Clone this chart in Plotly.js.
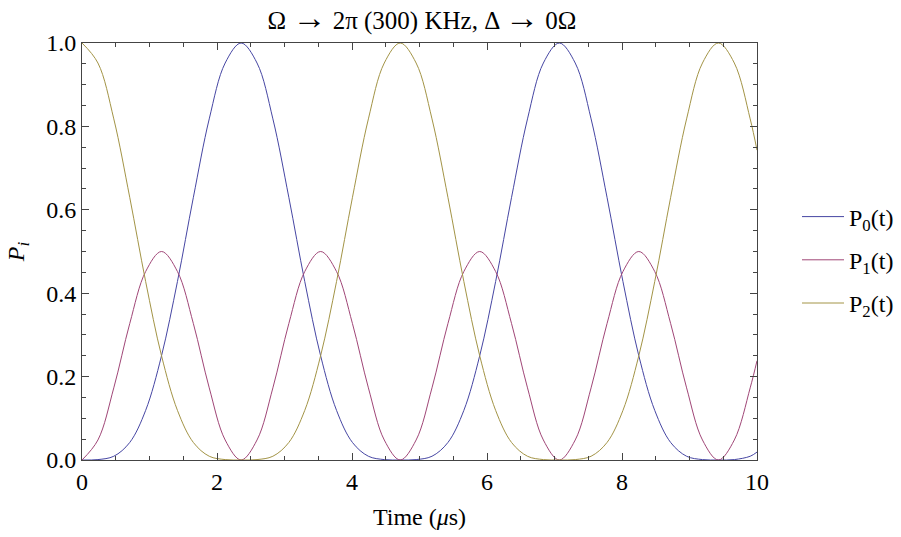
<!DOCTYPE html>
<html>
<head>
<meta charset="utf-8">
<script src="https://cdn.plot.ly/plotly-3.0.1.min.js"></script>
<style>html,body{margin:0;padding:0;background:#fff;}#chart{width:901px;height:537px;}</style>
</head>
<body>
<div id="chart"></div>
<script>
// Time (microseconds)
const time = [0,0.236,0.471,0.707,0.943,1.178,1.414,1.650,1.885,2.121,2.357,2.593,2.828,3.064,3.300,3.535,3.771,4.007,4.243,4.478,4.714,4.950,5.185,5.421,5.657,5.892,6.128,6.364,6.600,6.835,7.071,7.307,7.542,7.778,8.014,8.249,8.485,8.721,8.957,9.192,9.428,9.664,9.899,10];
// Populations
const p0 = [0,0.001,0.009,0.042,0.119,0.250,0.428,0.630,0.818,0.952,1.000,0.952,0.818,0.630,0.428,0.250,0.119,0.042,0.009,0.001,0.000,0.001,0.009,0.042,0.119,0.250,0.428,0.630,0.818,0.952,1.000,0.952,0.818,0.630,0.428,0.250,0.119,0.042,0.009,0.001,0.000,0.001,0.009,0.019];
const p1 = [0,0.048,0.173,0.327,0.452,0.500,0.452,0.327,0.173,0.048,0.000,0.048,0.173,0.327,0.452,0.500,0.452,0.327,0.173,0.048,0.000,0.048,0.173,0.327,0.452,0.500,0.452,0.327,0.173,0.048,0.000,0.048,0.173,0.327,0.452,0.500,0.452,0.327,0.173,0.048,0.000,0.048,0.173,0.238];
const p2 = [1,0.952,0.818,0.630,0.428,0.250,0.119,0.042,0.009,0.001,0.000,0.001,0.009,0.042,0.119,0.250,0.428,0.630,0.818,0.952,1.000,0.952,0.818,0.630,0.428,0.250,0.119,0.042,0.009,0.001,0.000,0.001,0.009,0.042,0.119,0.250,0.428,0.630,0.818,0.952,1.000,0.952,0.818,0.743];
const names = ['P<sub>0</sub>(t)','P<sub>1</sub>(t)','P<sub>2</sub>(t)'];
const colors = ['#4646a3','#a04677','#a39446'];
const xTicks = [0,2,4,6,8,10];
const yTicks = [0,0.2,0.4,0.6,0.8,1.0];
const arrow = '<span style="font-size:34px">→</span>';
const titleText = 'Ω ' + arrow + ' 2π (300) KHz, Δ ' + arrow + ' 0Ω';

const series = [p0,p1,p2];
const traces = series.map((s,i)=>({
  x: time, y: s, type:'scatter', mode:'lines', name: names[i],
  legendgroup: 'g'+i,
  line:{color: colors[i], width:1, shape:'spline', smoothing:1}
}));

const fontFam = 'Liberation Serif, Times New Roman, serif';
const axisCommon = {
  showgrid:false, zeroline:false, showline:true, linecolor:'#444', linewidth:1,
  mirror:'allticks', ticks:'inside', ticklen:7, tickcolor:'#444', tickwidth:1,
  tickfont:{family:fontFam, size:24, color:'#000'}
};
const layout = {
  width:901, height:537,
  paper_bgcolor:'#fff', plot_bgcolor:'#fff',
  margin:{l:81.7, r:144.3, t:42.7, b:77.3, autoexpand:false},
  title:{text: titleText, font:{family:fontFam, size:25, color:'#000'},
    x:422/901, xref:'container', xanchor:'center', y:1-20/537, yref:'container', yanchor:'middle'},
  xaxis: Object.assign({}, axisCommon, {
    range:[0,10], tickvals:xTicks, ticktext:xTicks.map(String),
    minor:{dtick:0.5, tick0:0, ticks:'inside', ticklen:4, tickcolor:'#444'},
    title:{text:'Time (<i>μ</i>s)', font:{family:fontFam, size:24, color:'#000'}, standoff:14}
  }),
  yaxis: Object.assign({}, axisCommon, {
    range:[0,1], tickvals:yTicks, ticktext:yTicks.map(v=>v.toFixed(1)),
    minor:{dtick:0.05, tick0:0, ticks:'inside', ticklen:4, tickcolor:'#444'},
    title:{text:'<i>P<sub>i</sub></i>', font:{family:fontFam, size:24, color:'#000'}, standoff:14}
  }),
  showlegend:true,
  legend:{x:797/901, xref:'container', xanchor:'left', y:1-260/537, yref:'container', yanchor:'middle', bgcolor:'rgba(0,0,0,0)',
    font:{family:fontFam, size:24, color:'#000'}, tracegroupgap:9, itemwidth:42}
};
Plotly.newPlot('chart', traces, layout, {staticPlot:true, displayModeBar:false});
</script>
</body>
</html>
